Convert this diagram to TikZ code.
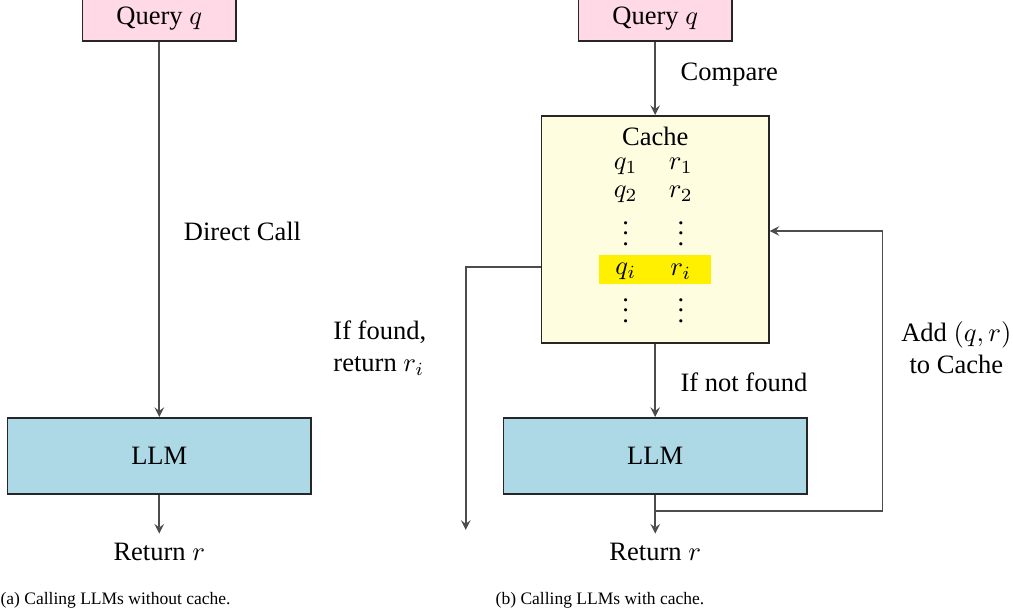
\documentclass[tikz,border=0pt]{standalone}
\usepackage{amsmath, amssymb}
\usepackage{fontspec}
\setmainfont{Liberation Serif}
\usepackage{xcolor}
\usepackage{tikz}
\usetikzlibrary{arrows}

\definecolor{querypink}{RGB}{255,217,230}
\definecolor{llmblue}{RGB}{173,216,230}
\definecolor{cacheyellow}{RGB}{255,253,224}
\definecolor{hityellow}{RGB}{255,240,0}

\tikzset{
  box/.style={draw=black!85, semithick, inner sep=0pt},
  querybox/.style={box, fill=querypink, minimum width=2.03cm, minimum height=0.61cm},
  llmbox/.style={box, fill=llmblue, minimum width=4.02cm, minimum height=1.01cm},
  cachebox/.style={box, fill=cacheyellow, minimum width=3.01cm, minimum height=3.01cm},
  entry/.style={inner sep=0pt},
  lbl/.style={inner sep=0pt},
  flow/.style={draw=black!70, semithick, -stealth},
  caption/.style={inner sep=0pt, font=\fontsize{6.6}{8}\selectfont}
}

\begin{document}
\begin{tikzpicture}
	\useasboundingbox (0,0) rectangle (13.42,8.12);

	% (a) without cache
	\node[querybox] (q1) at (2.11,7.88) {Query $q$};
	\node[llmbox] (llm1) at (2.11,2.08) {LLM};
	\node (ret1) at (2.11,0.81) {Return $r$};
	\draw[flow] (q1) -- (llm1);
	\draw[flow] (llm1) -- (ret1);
	\node[lbl, anchor=west] (direct) at (2.43,5.05) {Direct Call};
	\node[caption, anchor=west] (capa) at (0,0.17) {(a) Calling LLMs without cache.};

	% (b) with cache
	\node[querybox] (q2) at (8.68,7.88) {Query $q$};
	\node[cachebox] (cache) at (8.68,5.08) {};
	\node[box, draw=none, fill=hityellow, minimum width=1.48cm, minimum height=0.38cm] (hit) at (8.68,4.55) {};
	\node (title) at (8.68,6.31) {Cache};
	\node[entry] (qa) at (8.29,5.92) {$q_1$};
	\node[entry] (ra) at (9.02,5.92) {$r_1$};
	\node[entry] (qb) at (8.29,5.55) {$q_2$};
	\node[entry] (rb) at (9.02,5.55) {$r_2$};
	\node[entry] (dqa) at (8.29,5.13) {$\vdots$};
	\node[entry] (dra) at (9.02,5.13) {$\vdots$};
	\node[entry] (qi) at (8.29,4.52) {$q_i$};
	\node[entry] (ri) at (9.02,4.52) {$r_i$};
	\node[entry] (dqb) at (8.29,4.11) {$\vdots$};
	\node[entry] (drb) at (9.02,4.11) {$\vdots$};
	\node[llmbox] (llm2) at (8.68,2.08) {LLM};
	\node (ret2) at (8.68,0.81) {Return $r$};

	\draw[flow] (q2) -- (cache);
	\draw[flow] (cache) -- (llm2);
	\draw[flow] (llm2) -- (ret2);

	\coordinate (found) at (6.17,1.10);
	\draw[flow] (cache.west |- 0,4.58) -| (found);

	\coordinate (split) at (8.68,1.35);
	\coordinate (back) at (11.69,5.06);
	\draw[flow] (split) -| (back) -- (back -| cache.east);

	\node[lbl, anchor=west] (cmp) at (9.01,7.13) {Compare};
	\node[lbl, anchor=west, align=left] (fnd) at (4.41,3.51) {If found,\\return $r_i$};
	\node[lbl, anchor=west] (nfnd) at (9.01,3.05) {If not found};
	\node[lbl, align=center] (add) at (12.67,3.51) {Add $(q,r)$\\to Cache};
	\node[caption, anchor=west] (capb) at (6.56,0.17) {(b) Calling LLMs with cache.};
\end{tikzpicture}
\end{document}
